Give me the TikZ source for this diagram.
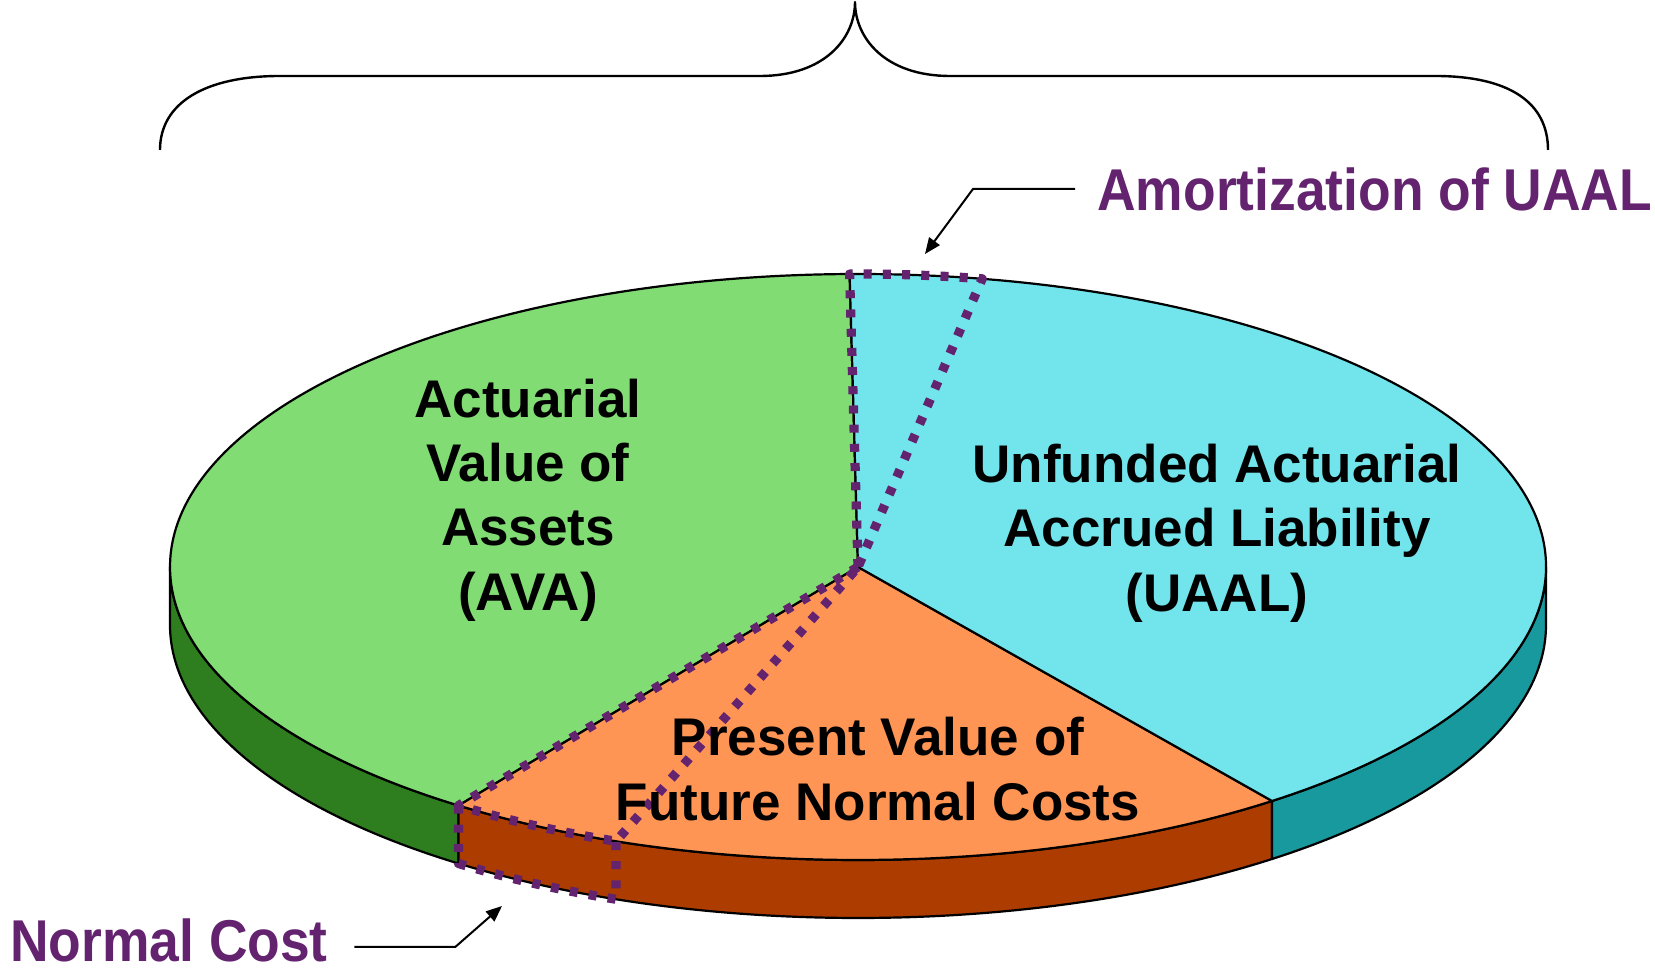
\documentclass[tikz,border=0pt]{standalone}
\usepackage{fontspec}
\setmainfont{Liberation Sans}
\newfontfamily\narrowsans{Liberation Sans}[FakeStretch=0.905]
\usetikzlibrary{arrows.meta,calc}

\definecolor{avatop}{HTML}{81DD73}
\definecolor{avaside}{HTML}{2E7E1F}
\definecolor{uaaltop}{HTML}{72E5EC}
\definecolor{uaalside}{HTML}{17999E}
\definecolor{pvtop}{HTML}{FF9555}
\definecolor{pvside}{HTML}{AC3C00}
\definecolor{callout}{HTML}{63236F}

% point on the rim ellipse around centre #1 at parametric angle #2
\newcommand\rimpt[2]{($(#1)+(#2:344pt and 146.5pt)$)}

\begin{document}
\begin{tikzpicture}[x=0.5pt,y=0.5pt,
  rim/.style={draw=black,line width=1.1pt,line join=round},
  wedgeoutline/.style={draw=callout,line width=4.6pt,dash pattern=on 4pt off 5.6pt,line join=round},
  piefont/.style={font=\fontsize{26.5}{32.2}\selectfont\bfseries,align=center,inner sep=0pt},
  keylabel/.style={font=\narrowsans\fontsize{29.5}{34}\selectfont\bfseries,text=callout,inner sep=0pt},
  pointer/.style={line width=1pt,-{Triangle[length=8pt,width=6.5pt]}},
  bracket/.style={draw=black,line width=1.2pt,line join=round},
  ell/.style={x radius=344pt,y radius=146.5pt}]

\fill[white] (0,0) rectangle (1655,973);
\useasboundingbox (0,0) rectangle (1655,973);

% centres of the upper face and the lower rim
\coordinate (C) at (858,406);
\coordinate (D) at (858,348);

% side walls of the disc
\foreach \a/\b/\col in {180/234.5/avaside, 234.5/307/pvside, 307/360/uaalside}{
  \filldraw[rim,fill=\col] \rimpt{C}{\a}
    arc[start angle=\a,end angle=\b,ell]
    -- \rimpt{D}{\b}
    arc[start angle=\b,end angle=\a,ell] -- cycle;
}

% upper faces of the three slices
\filldraw[rim,fill=avatop] (C) -- \rimpt{C}{90.7}
  arc[start angle=90.7,end angle=234.5,ell] -- cycle;
\filldraw[rim,fill=pvtop] (C) -- \rimpt{C}{234.5}
  arc[start angle=234.5,end angle=307,ell] -- cycle;
\filldraw[rim,fill=uaaltop] (C) -- \rimpt{C}{307}
  arc[start angle=307,end angle=450.7,ell] -- cycle;

% dotted outlines: amortization wedge and normal cost wedge
\draw[wedgeoutline] (C) -- \rimpt{C}{90.7}
  arc[start angle=90.7,end angle=79.6,ell] -- cycle;
\draw[wedgeoutline] (C) -- \rimpt{C}{234.5}
  arc[start angle=234.5,end angle=249.4,ell] -- cycle;
\draw[wedgeoutline] \rimpt{C}{234.5} -- \rimpt{D}{234.5}
  arc[start angle=234.5,end angle=249.4,ell]
  -- \rimpt{C}{249.4};

% slice labels
\node[piefont] (ava) at (528,473) {Actuarial\\Value of\\Assets\\(AVA)};
\node[piefont] (uaal) at (1217,440) {Unfunded Actuarial\\Accrued Liability\\(UAAL)};
\node[piefont] (pvfnc) at (878,204) {Present Value of\\Future Normal Costs};

% call-out labels and pointers
\node[keylabel,anchor=base west] (amort) at (1097,762) {Amortization of UAAL};
\node[keylabel,anchor=base west] (normal) at (10,11) {Normal Cost};
\coordinate (amortTip) at (925,719);
\coordinate (normalTip) at (502,67);
\draw[pointer] ([xshift=-11pt,yshift=11pt]amort.base west) -- ++(-102,0) -- (amortTip);
\draw[pointer] ([xshift=13pt,yshift=7.5pt]normal.base east) -- ++(101,0) -- (normalTip);

% brace over the whole disc
\coordinate (braceL) at (160,823);
\coordinate (braceTop) at (855,971);
\coordinate (braceR) at (1548,823);
\draw[bracket] (braceL) .. controls (160,870) and (205,897) .. (280,897)
  -- (760,897) .. controls (825,897) and (855,935) .. (braceTop)
  .. controls (855,935) and (885,897) .. (950,897)
  -- (1435,897) .. controls (1510,897) and (1548,870) .. (braceR);

\end{tikzpicture}
\end{document}
